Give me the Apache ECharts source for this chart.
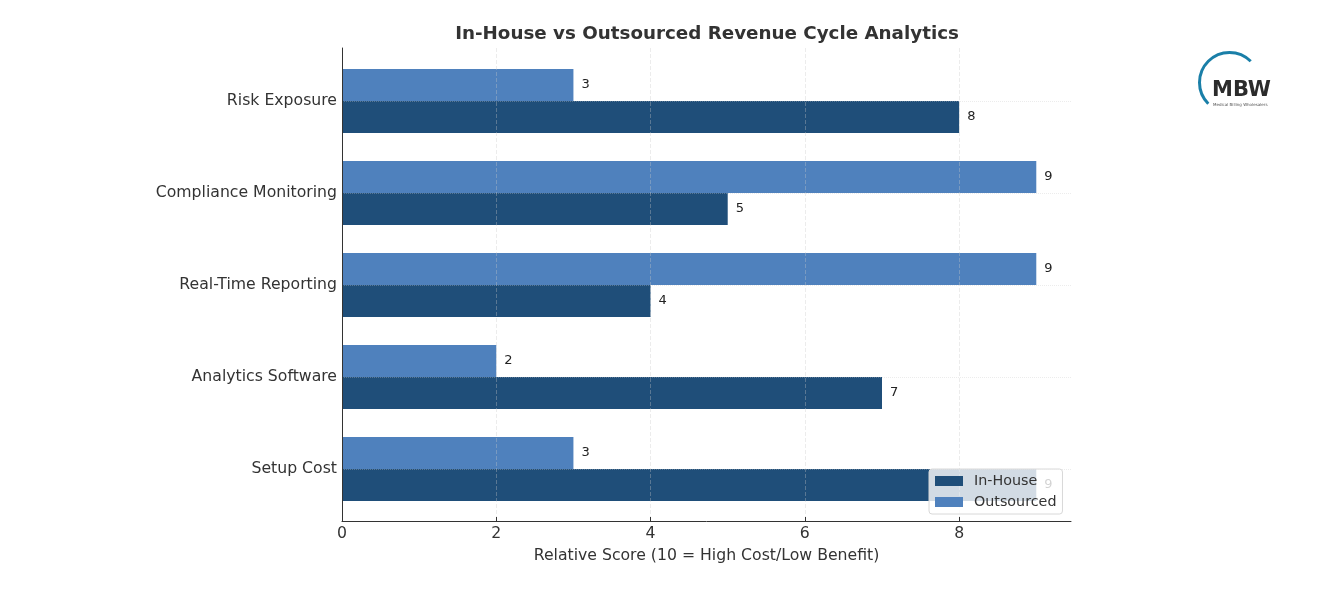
<!DOCTYPE html>
<html lang="en">
<head>
<meta charset="UTF-8">
<title>In-House vs Outsourced Revenue Cycle Analytics</title>
<script src="https://cdn.jsdelivr.net/npm/echarts@6/dist/echarts.min.js"></script>
<style>
  html, body { margin: 0; padding: 0; background: #fff; }
</style>
</head>
<body>
<div id="main" style="width: 1337px;height: 589px;"></div>
<script>
var categories = ['Setup Cost', 'Analytics Software', 'Real-Time Reporting', 'Compliance Monitoring', 'Risk Exposure'];
var inHouse = [9, 7, 4, 5, 8];
var outsourced = [3, 2, 9, 9, 3];
var xTicks = [0, 2, 4, 6, 8];

var font = 'DejaVu Sans';
var gridColor = 'rgba(200,200,200,0.35)';
var chart = echarts.init(document.getElementById('main'));

var option = {
  backgroundColor: '#ffffff',
  animation: false,
  textStyle: { fontFamily: font },
  title: {
    text: 'In-House vs Outsourced Revenue Cycle Analytics',
    left: 702, top: 20, textAlign: 'center',
    textStyle: { fontFamily: font, fontSize: 18.3, fontWeight: 'bold', color: '#333' }
  },
  legend: {
    data: ['In-House', 'Outsourced'],
    orient: 'vertical',
    left: 929, top: 469,
    icon: 'rect',
    itemWidth: 28, itemHeight: 10, itemGap: 7,
    padding: [5, 6, 5, 6],
    backgroundColor: 'rgba(255,255,255,0.8)',
    borderColor: '#d8d8d8', borderWidth: 1, borderRadius: 3,
    textStyle: { fontFamily: font, fontSize: 14.3, color: '#333', padding: [0, 0, 0, 6] },
    z: 10
  },
  grid: [
    { left: 342, right: 266, top: 55, bottom: 74 },
    { left: 342, right: 266, top: 48, bottom: 68 }
  ],
  xAxis: [
    { gridIndex: 0, type: 'value', min: 0, max: 9.45, show: false },
    {
      gridIndex: 1, type: 'value', min: 0, max: 9.45, interval: 2, z: 5,
      name: 'Relative Score (10 = High Cost/Low Benefit)',
      nameLocation: 'middle', nameGap: 27,
      nameTextStyle: { fontFamily: font, fontSize: 15.7, color: '#333' },
      axisLine: { show: true, lineStyle: { color: '#333', width: 1 } },
      axisTick: { show: true, inside: true, length: 4, lineStyle: { color: '#333' } },
      axisLabel: {
        fontFamily: font, fontSize: 15.7, color: '#333', margin: 5,
        showMaxLabel: false,
        formatter: function (v) { return xTicks.indexOf(v) >= 0 ? String(v) : ''; }
      },
      splitLine: {
        show: true, showMinLine: false, showMaxLine: false,
        lineStyle: { color: gridColor, type: 'dashed', width: 1 }
      }
    }
  ],
  yAxis: [
    {
      gridIndex: 0, type: 'category', data: categories, z: 5,
      axisLine: { show: false },
      axisTick: { show: false },
      axisLabel: { fontFamily: font, fontSize: 15.7, color: '#333', margin: 5 },
      splitLine: { show: true, alignWithLabel: true, lineStyle: { color: gridColor, type: 'dotted', width: 1 } }
    },
    {
      gridIndex: 1, type: 'value', min: 0, max: 1, z: 6,
      axisLine: { show: true, lineStyle: { color: '#333', width: 1 } },
      axisTick: { show: false }, axisLabel: { show: false }, splitLine: { show: false }
    }
  ],
  series: [
    {
      name: 'Outsourced', type: 'bar', xAxisIndex: 0, yAxisIndex: 0,
      data: outsourced, barWidth: 32, barGap: '0%',
      itemStyle: { color: '#4f81bd' },
      label: { show: true, position: 'right', distance: 8, fontFamily: font, fontSize: 13, color: '#222' }
    },
    {
      name: 'In-House', type: 'bar', xAxisIndex: 0, yAxisIndex: 0,
      data: inHouse, barWidth: 32, barGap: '0%',
      itemStyle: { color: '#1f4e79' },
      label: { show: true, position: 'right', distance: 8, fontFamily: font, fontSize: 13, color: '#222' }
    }
  ],
  graphic: [
    {
      type: 'arc', left: 1197, top: 50,
      shape: { cx: 30, cy: 30, r: 30, startAngle: Math.PI * 0.75, endAngle: Math.PI * 1.75 },
      style: { stroke: '#1a7fa8', lineWidth: 3, fill: null }
    },
    {
      type: 'text', left: 1212, top: 80,
      style: { text: 'MBW', fontFamily: font, fontSize: 21, fontWeight: 'bold', fill: '#2b2b2b' }
    },
    {
      type: 'text', left: 1213, top: 103,
      style: { text: 'Medical Billing Wholesalers', fontFamily: font, fontSize: 4, fill: '#555' }
    }
  ]
};

chart.setOption(option);
</script>
</body>
</html>
